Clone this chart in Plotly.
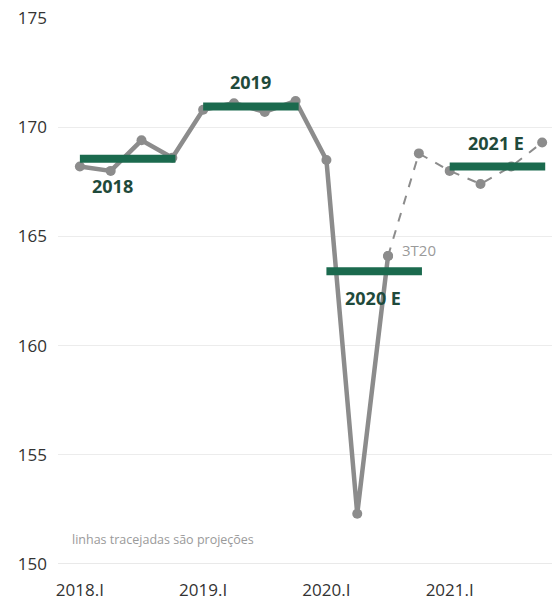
import plotly.graph_objects as go

# Quarterly series (index), 2018.I – 2021.IV
quarters = ["2018.I", "2018.II", "2018.III", "2018.IV",
            "2019.I", "2019.II", "2019.III", "2019.IV",
            "2020.I", "2020.II", "2020.III", "2020.IV",
            "2021.I", "2021.II", "2021.III", "2021.IV"]
values = [168.2, 168.0, 169.4, 168.6,
          170.8, 171.1, 170.7, 171.2,
          168.5, 152.3, 164.1, 168.8,
          168.0, 167.4, 168.2, 169.3]
last_actual = 10  # 2020.III is the last observed quarter

# Annual averages
years = ["2018", "2019", "2020 E", "2021 E"]
year_avg = [168.55, 170.95, 163.4, 168.2]
year_label_side = ["below", "above", "below", "above"]

tick_labels = ["2018.I", "2019.I", "2020.I", "2021.I"]

GRAY = "#8c8c8c"
GREEN = "#1b6a4e"
DARK_GREEN = "#1f4a3b"
FONT = "Open Sans, sans-serif"

xs = list(range(len(quarters)))
fig = go.Figure()

# observed quarters: solid line
fig.add_trace(go.Scatter(
    x=xs[:last_actual + 1], y=values[:last_actual + 1],
    mode="lines+markers",
    line=dict(color=GRAY, width=4.5),
    marker=dict(color=GRAY, size=10),
    showlegend=False, hoverinfo="skip"))

# projected quarters: dashed line
fig.add_trace(go.Scatter(
    x=xs[last_actual:], y=values[last_actual:],
    mode="lines+markers",
    line=dict(color=GRAY, width=2, dash="dash"),
    marker=dict(color=GRAY, size=10),
    showlegend=False, hoverinfo="skip"))

annotations = []
for i, (name, avg, side) in enumerate(zip(years, year_avg, year_label_side)):
    x0, x1 = 4 * i, 4 * i + 3.1
    fig.add_trace(go.Scatter(
        x=[x0, x1], y=[avg, avg], mode="lines",
        line=dict(color=GREEN, width=8),
        showlegend=False, hoverinfo="skip"))
    annotations.append(dict(
        x=(x0 + x1) / 2 + (-0.5 if i == 0 else -0.05 if i >= 2 else 0),
        y=avg, xref="x", yref="y", text=f"<b>{name}</b>",
        showarrow=False, yshift=(-27 if side == "below" else 24),
        font=dict(family=FONT, size=18, color=DARK_GREEN)))

annotations.append(dict(
    x=last_actual, y=values[last_actual], xref="x", yref="y",
    text=quarters[last_actual].replace("2020.III", "3T20"),
    showarrow=False, xanchor="left", xshift=12, yshift=6,
    font=dict(family=FONT, size=15, color="#9a9a9a")))

annotations.append(dict(
    x=0.025, y=0.025, xref="paper", yref="paper", xanchor="left",
    text="linhas tracejadas são projeções", showarrow=False,
    font=dict(family=FONT, size=12.5, color="#9a9a9a")))

fig.update_layout(
    width=552, height=602,
    margin=dict(l=58, r=0, t=18, b=38),
    paper_bgcolor="white", plot_bgcolor="white",
    annotations=annotations,
    font=dict(family=FONT, color="#333333"),
    xaxis=dict(range=[-0.71, 15.32], tickmode="array",
               tickvals=[0, 4, 8, 12], ticktext=tick_labels,
               showgrid=False, zeroline=False, showline=False,
               ticks="", tickfont=dict(size=17), ticklabelstandoff=14),
    yaxis=dict(range=[150, 175], dtick=5, showgrid=True,
               gridcolor="#ececec", gridwidth=1, zeroline=False,
               showline=False, ticks="", tickfont=dict(size=17),
               ticklabelstandoff=10),
)
fig.add_hline(y=150, line=dict(color="#d4d4d4", width=1.2))

fig.write_html("out.html")
